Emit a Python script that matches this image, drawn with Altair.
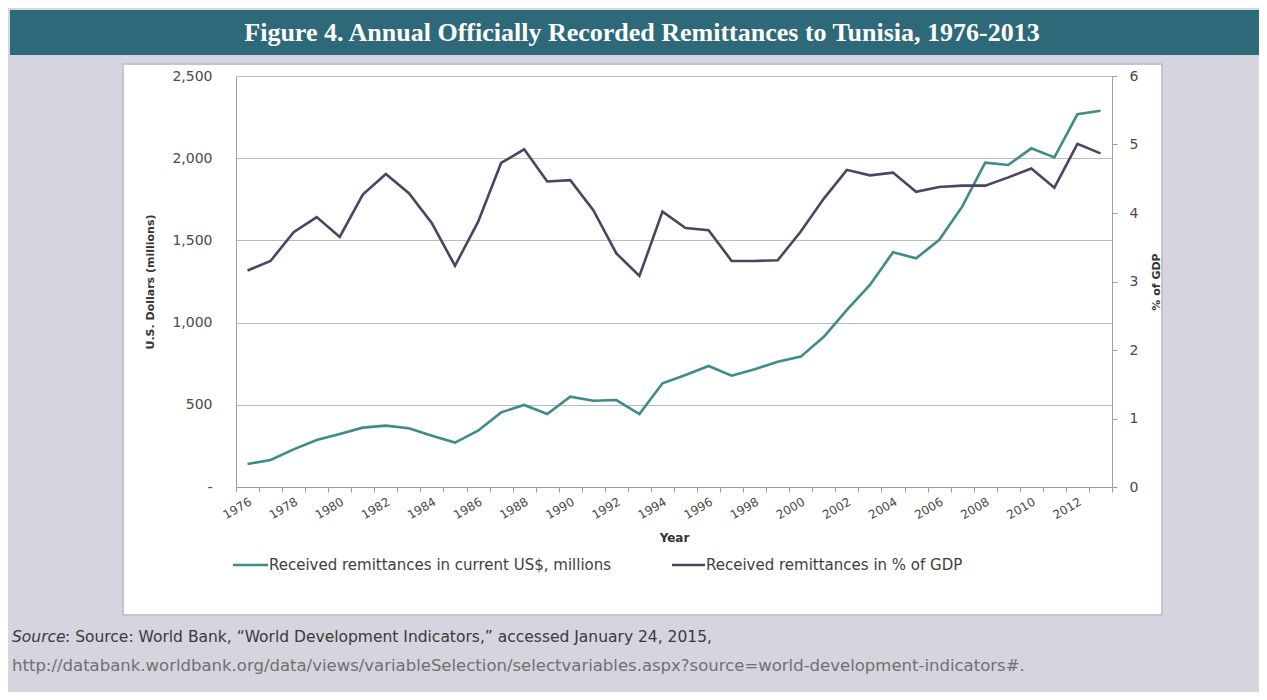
import altair as alt
import pandas as pd

# ---- data ----
years = list(range(1976, 2014))
usd_millions = [140, 164, 229, 286, 322, 361, 373, 357, 312, 270, 342, 454, 499,
                444, 549, 525, 529, 444, 631, 681, 736, 677, 716, 762,
                793, 914, 1077, 1229, 1428, 1391, 1502, 1705, 1973, 1959, 2060, 2005, 2267, 2289]
pct_gdp = [3.16, 3.30, 3.72, 3.94, 3.65, 4.27, 4.57, 4.29, 3.85, 3.23, 3.87, 4.73, 4.93,
           4.46, 4.48, 4.04, 3.41, 3.08, 4.02, 3.78, 3.75, 3.30, 3.30, 3.31,
           3.73, 4.21, 4.63, 4.55, 4.59, 4.31, 4.38, 4.40, 4.40, 4.52, 4.65, 4.37, 5.01, 4.87]
usd_ticks = [0, 500, 1000, 1500, 2000, 2500]
pct_ticks = [0, 1, 2, 3, 4, 5, 6]
title_text = "Figure 4. Annual Officially Recorded Remittances to Tunisia, 1976-2013"
legend_labels = ["Received remittances in current US$, millions",
                 "Received remittances in % of GDP"]
source_label = "Source"
source_rest = ": Source: World Bank, \u201cWorld Development Indicators,\u201d accessed January 24, 2015,"
source_url = ("http://databank.worldbank.org/data/views/variableSelection/"
              "selectvariables.aspx?source=world-development-indicators#.")

TEAL = "#3f8b8b"
PURPLE = "#4d4362"
LAV = "#d5d4df"
BAND = "#2d6979"
GRID = "#bcbcbc"
AXIS = "#9e9e9e"
LABEL = "#4a4a4a"
FONT = "DejaVu Sans"

df = pd.DataFrame({"Year": years, "USD": usd_millions, "PCT": pct_gdp})
one = pd.DataFrame({"k": [0]})


def box(x, x2, y, y2, **kw):
    return alt.Chart(one).mark_rect(**kw).encode(
        x=alt.value(x), x2=alt.value(x2), y=alt.value(y), y2=alt.value(y2))


def txt(text, x, y, **kw):
    return alt.Chart(one).mark_text(text=text, **kw).encode(x=alt.value(x), y=alt.value(y))


def seg(x, x2, y, color):
    return alt.Chart(one).mark_rule(color=color, strokeWidth=2.5).encode(
        x=alt.value(x), x2=alt.value(x2), y=alt.value(y))


x_enc = alt.X(
    "Year:O",
    scale=alt.Scale(type="band", paddingInner=0, paddingOuter=0),
    axis=alt.Axis(
        title="Year", labelExpr="datum.value % 2 == 0 ? datum.label : ''",
        labelAngle=-30, labelAlign="right", labelBaseline="top",
        tickBand="extent", ticks=True, tickSize=5, grid=False,
        domainColor=AXIS, tickColor=AXIS, labelColor=LABEL, labelFont=FONT,
        labelFontSize=12, labelPadding=4, titleFont=FONT, titleFontSize=12,
        titleFontWeight="bold", titleColor="#333333", titlePadding=12,
    ),
)

usd_line = alt.Chart(df).mark_line(color=TEAL, strokeWidth=2.6).encode(
    x=x_enc,
    y=alt.Y(
        "USD:Q", scale=alt.Scale(domain=[0, 2500], nice=False, zero=True),
        axis=alt.Axis(
            orient="left", values=usd_ticks,
            labelExpr="datum.value == 0 ? '-' : format(datum.value, ',')",
            title="U.S. Dollars (millions)", grid=True, gridColor=GRID,
            domainColor=AXIS, ticks=False, labelPadding=24, labelColor=LABEL,
            labelFont=FONT, labelFontSize=14, titleFont=FONT, titleFontSize=11,
            titleFontWeight="bold", titleColor="#333333", titlePadding=16,
        ),
    ),
)

pct_line = alt.Chart(df).mark_line(color=PURPLE, strokeWidth=2.6).encode(
    x=x_enc,
    y=alt.Y(
        "PCT:Q", scale=alt.Scale(domain=[0, 6], nice=False, zero=True),
        axis=alt.Axis(
            orient="right", values=pct_ticks, format="d", grid=False,
            title="% of GDP", titleAngle=-90, ticks=True, tickSize=5,
            tickColor=AXIS, domainColor=AXIS, labelPadding=12, labelColor=LABEL,
            labelFont=FONT, labelFontSize=14, titleFont=FONT, titleFontSize=11,
            titleFontWeight="bold", titleColor="#333333", titlePadding=24,
        ),
    ),
)

# page frame (coordinates relative to the plot origin)
frame = [
    box(-228, 1030, -68, -12, color=LAV),
    box(-228, -113, -12, 620, color=LAV),
    box(926, 1030, -12, 620, color=LAV),
    box(-228, 1030, 539, 620, color=LAV),
    box(-226, 1030, -66, -21, color=BAND),
    box(-113, 926, -12, 539, fill=None, fillOpacity=0, stroke="#c4c3cf", strokeWidth=2),
]

title = txt(title_text, 406, -43, font="Liberation Serif", fontSize=26, fontWeight="bold",
            color="white", align="center", baseline="middle")

legend = [
    seg(-3, 32, 489, TEAL),
    txt(legend_labels[0], 33, 489, font=FONT, fontSize=15, color="#404040",
        align="left", baseline="middle"),
    seg(436, 469, 489, PURPLE),
    txt(legend_labels[1], 470, 489, font=FONT, fontSize=15, color="#404040",
        align="left", baseline="middle"),
]

source = [
    txt(source_label, -224, 561, font=FONT, fontSize=15.5, fontStyle="italic",
        color="#3a3a3a", align="left", baseline="middle"),
    txt(source_rest, -171, 561, font=FONT, fontSize=15.5,
        color="#3a3a3a", align="left", baseline="middle"),
    txt(source_url, -224, 590, font=FONT, fontSize=16.5,
        color="#707070", align="left", baseline="middle"),
]

lines = alt.layer(usd_line, pct_line).resolve_scale(y="independent")

chart = alt.layer(
    *frame, title, lines, *legend, *source
).resolve_scale(y="independent").properties(
    width=876, height=411,
    autosize=alt.AutoSizeParams(type="none"),
    padding={"left": 228, "top": 68, "right": 147, "bottom": 205},
    background="white",
).configure_view(stroke=None)

chart.save("out.html", embed_options={"renderer": "svg", "actions": False})
